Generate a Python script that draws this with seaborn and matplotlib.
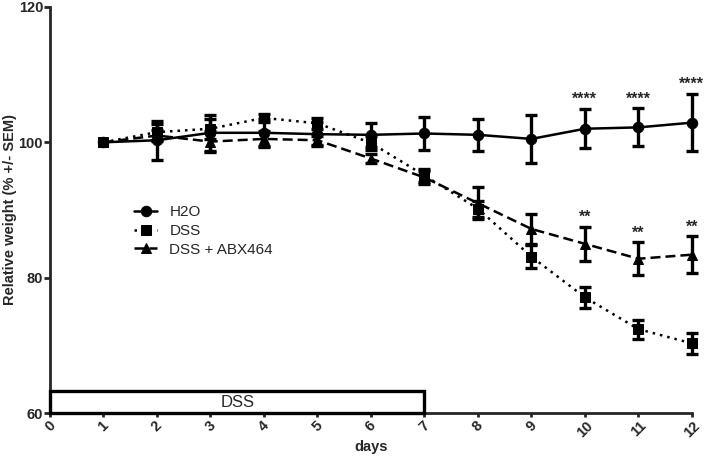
import numpy as np
import pandas as pd
import seaborn as sns
import matplotlib
matplotlib.use('Agg')
import matplotlib.pyplot as plt
from matplotlib.patches import Rectangle

days = list(range(1, 13))
groups = ['H2O', 'DSS', 'DSS + ABX464']

h2o = [100, 100.3, 101.4, 101.4, 101.2, 101.1, 101.3, 101.1, 100.5, 102.0, 102.2, 102.9]
h2o_sem = [0, 2.85, 2.7, 2.0, 1.8, 1.8, 2.4, 2.4, 3.6, 2.9, 2.8, 4.2]
dss = [100, 101.5, 102.0, 103.6, 102.8, 99.9, 95.1, 90.2, 83.1, 77.1, 72.4, 70.3]
dss_sem = [0, 1.2, 1.5, 0.6, 0.8, 1.0, 0.9, 1.2, 1.7, 1.6, 1.4, 1.6]
abx = [100, 101.0, 100.1, 100.5, 100.3, 97.6, 94.8, 91.0, 87.2, 85.0, 82.8, 83.4]
abx_sem = [0, 0.8, 1.5, 1.2, 0.7, 0.7, 1.0, 2.4, 2.2, 2.5, 2.4, 2.7]

star_days = [10, 11, 12]
h2o_stars = ['****', '****', '****']
abx_stars = ['**', '**', '**']

dss_period = (0, 7)

means = {'H2O': h2o, 'DSS': dss, 'DSS + ABX464': abx}
sems = {'H2O': h2o_sem, 'DSS': dss_sem, 'DSS + ABX464': abx_sem}

df = pd.concat([pd.DataFrame({'day': days, 'weight': means[g], 'sem': sems[g], 'group': g})
                for g in groups], ignore_index=True)

sns.set_style('ticks')
plt.rcParams['font.family'] = ['Liberation Sans', 'DejaVu Sans']

fig = plt.figure(figsize=(7.07, 4.58), dpi=100)
ax = fig.add_axes([0.0707, 0.098, 0.908, 0.887])

styles = {'H2O': '', 'DSS': (1, 2), 'DSS + ABX464': (4, 2)}
markers = {'H2O': 'o', 'DSS': 's', 'DSS + ABX464': '^'}
sns.lineplot(data=df, x='day', y='weight', hue='group', style='group',
             palette=['black'] * 3, dashes=styles, markers=markers,
             markersize=7.5, markeredgecolor='black', linewidth=1.8, ax=ax, legend=True)
for ln in ax.lines:
    ln.set_clip_on(False)

for g in groups:
    sub = df[df['group'] == g]
    eb = ax.errorbar(sub['day'][1:], sub['weight'][1:], yerr=sub['sem'][1:], fmt='none',
                     ecolor='black', elinewidth=2.4, capsize=4, capthick=2.4)
    for art in eb.lines[1] + eb.lines[2]:
        art.set_clip_on(False)

for d, s in zip(star_days, h2o_stars):
    i = days.index(d)
    ax.text(d, h2o[i] + h2o_sem[i] + 0.3, s, ha='center', va='bottom', fontsize=11.5, fontweight='bold')
for d, s in zip(star_days, abx_stars):
    i = days.index(d)
    ax.text(d, abx[i] + abx_sem[i] + 0.3, s, ha='center', va='bottom', fontsize=11.5, fontweight='bold')

ax.add_patch(Rectangle((dss_period[0], 60), dss_period[1] - dss_period[0], 3.2,
                       fill=False, edgecolor='black', linewidth=2.4, clip_on=False, zorder=5))
ax.text(sum(dss_period) / 2, 61.55, 'DSS', ha='center', va='center', fontsize=12)

ax.set_xlim(0, 12)
ax.set_ylim(60, 120)
ax.set_xticks(range(0, 13))
ax.set_yticks([60, 80, 100, 120])
ax.set_xticklabels([str(i) for i in range(0, 13)], rotation=45, fontweight='bold', fontsize=10.5)
ax.set_yticklabels(['60', '80', '100', '120'], fontweight='bold', fontsize=10.5)
ax.set_xlabel('days', fontweight='bold', fontsize=10.5, labelpad=0)
ax.set_ylabel('Relative weight (% +/- SEM)', fontweight='bold', fontsize=10.5, labelpad=1)
for sp in ['left', 'bottom']:
    ax.spines[sp].set_linewidth(2)
sns.despine(ax=ax)
ax.tick_params(axis='y', width=2, length=4, pad=1)
ax.tick_params(axis='x', width=2, length=3, pad=1)

leg = ax.legend(loc='upper left', bbox_to_anchor=(0.11, 0.545), frameon=False, fontsize=11,
                handlelength=1.5, labelspacing=0.3)
leg.set_title(None)

fig.savefig('out.png', dpi=100)
